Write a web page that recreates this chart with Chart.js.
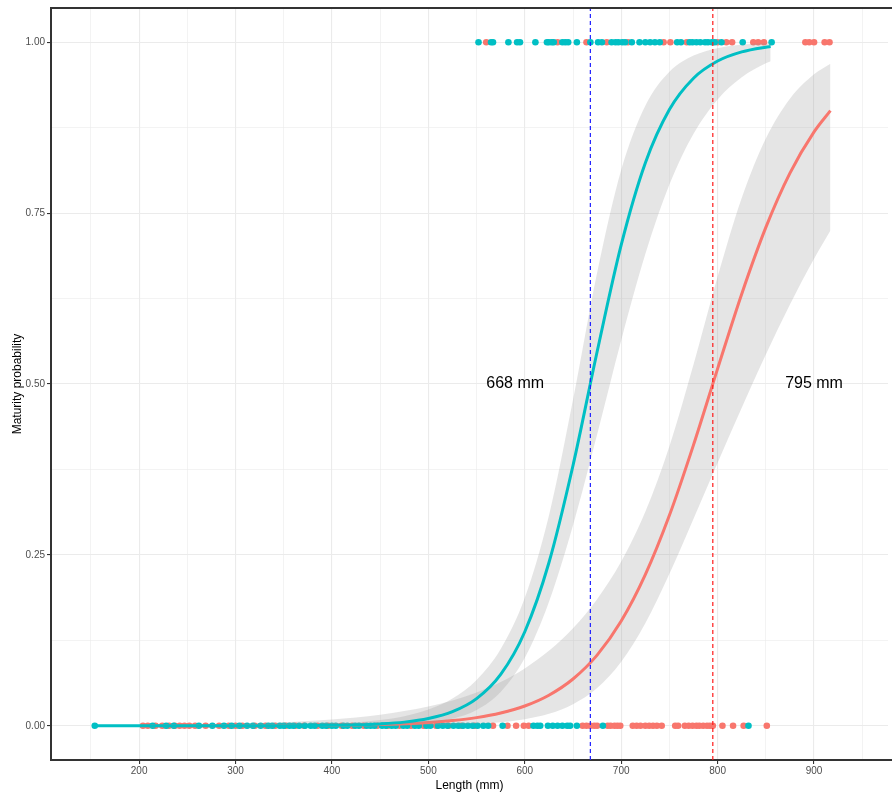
<!DOCTYPE html>
<html>
<head>
<meta charset="utf-8">
<script src="https://cdn.jsdelivr.net/npm/chart.js@4.4.1/dist/chart.umd.min.js"></script>
<style>
  body { margin: 0; background: #fff; overflow: hidden; }
  #wrap { width: 892px; height: 796px; }
</style>
</head>
<body>
<div id="wrap"><canvas id="myChart"></canvas></div>
<script>
// axis ticks
const lengthTicks = [150, 200, 250, 300, 350, 400, 450, 500, 550, 600, 650, 700, 750, 800, 850, 900, 950];
const probTicks = [0, 0.125, 0.25, 0.375, 0.5, 0.625, 0.75, 0.875, 1];

// fitted curve + confidence band, cyan group
const cyanL = [153, 175, 200, 225, 250, 275, 300, 325, 350, 375, 400, 425, 450, 475, 500, 525, 550, 575, 600, 625, 650, 675, 700, 725, 750, 775, 800, 825, 850, 855];
const cyanFit = [0, 0, 0, 0, 0, 0, 0, 0.0001, 0.0002, 0.0004, 0.0007, 0.0014, 0.0028, 0.0054, 0.0106, 0.0206, 0.0397, 0.0751, 0.1376, 0.2385, 0.3808, 0.5471, 0.7035, 0.8233, 0.9015, 0.9473, 0.9724, 0.9858, 0.9927, 0.9936];
const cyanLo = [0, 0, 0, 0, 0, 0, 0, 0, 0, 0.0001, 0.0002, 0.0004, 0.0009, 0.0021, 0.0047, 0.0105, 0.0232, 0.0495, 0.0994, 0.1811, 0.2933, 0.4260, 0.5641, 0.6900, 0.7917, 0.8660, 0.9163, 0.9488, 0.9690, 0.9721];
const cyanHi = [0, 0, 0, 0.0001, 0.0001, 0.0002, 0.0004, 0.0006, 0.0010, 0.0018, 0.0029, 0.0050, 0.0084, 0.0141, 0.0238, 0.0400, 0.0672, 0.1124, 0.1873, 0.3073, 0.4768, 0.6628, 0.8131, 0.9070, 0.9567, 0.9804, 0.9913, 0.9962, 0.9983, 0.9986];

// fitted curve + confidence band, red group
const redL = [205, 225, 250, 275, 300, 325, 350, 375, 400, 425, 450, 475, 500, 525, 550, 575, 600, 625, 650, 675, 700, 725, 750, 775, 800, 825, 850, 875, 900, 917];
const redFit = [0, 0, 0.0001, 0.0001, 0.0001, 0.0002, 0.0003, 0.0005, 0.0008, 0.0013, 0.0020, 0.0031, 0.0049, 0.0077, 0.0120, 0.0187, 0.0290, 0.0448, 0.0685, 0.1034, 0.1532, 0.2211, 0.3079, 0.4110, 0.5225, 0.6318, 0.7291, 0.8085, 0.8688, 0.8999];
const redLo = [0, 0, 0, 0, 0, 0, 0, 0.0001, 0.0001, 0.0001, 0.0002, 0.0005, 0.0008, 0.0016, 0.0029, 0.0053, 0.0097, 0.0175, 0.0315, 0.0552, 0.0937, 0.1500, 0.2224, 0.3028, 0.3849, 0.4653, 0.5431, 0.6163, 0.6833, 0.7245];
const redHi = [0.0011, 0.0013, 0.0018, 0.0023, 0.0031, 0.0040, 0.0053, 0.0071, 0.0093, 0.0123, 0.0163, 0.0215, 0.0283, 0.0372, 0.0489, 0.0642, 0.0840, 0.1097, 0.1427, 0.1853, 0.2403, 0.3130, 0.4090, 0.5285, 0.6568, 0.7719, 0.8590, 0.9173, 0.9531, 0.9685];

// observed fish (length mm), mature = 1 / immature = 0
const cyanMature = [552, 565, 567, 583, 592, 595, 611, 623, 625, 628, 630, 639, 642, 645, 654, 668, 676, 680, 690, 694, 697, 701, 704, 711, 719, 725, 730, 735, 740, 758, 762, 771, 774, 778, 782, 787, 790, 794, 797, 804, 826, 856];
const redMature = [560, 634, 664, 685, 707, 744, 751, 768, 800, 809, 815, 837, 842, 848, 891, 895, 900, 911, 916];
const cyanImmature = [154, 214, 228, 236, 262, 276, 288, 296, 304, 312, 318, 326, 334, 338, 346, 350, 356, 360, 366, 372, 378, 382, 390, 394, 400, 404, 412, 416, 424, 428, 436, 440, 444, 452, 456, 462, 466, 474, 478, 486, 490, 498, 502, 510, 515, 520, 526, 531, 536, 541, 546, 551, 557, 562, 577, 609, 613, 616, 624, 629, 634, 639, 644, 647, 654, 681, 832];
const redImmature = [204, 209, 217, 224, 231, 237, 242, 247, 252, 258, 269, 283, 293, 300, 307, 320, 331, 341, 352, 362, 371, 385, 396, 410, 421, 433, 447, 458, 470, 482, 495, 508, 521, 534, 548, 567, 582, 591, 599, 604, 660, 664, 668, 672, 675, 686, 689, 693, 696, 699, 712, 716, 720, 725, 729, 733, 737, 742, 756, 759, 766, 770, 774, 778, 781, 785, 789, 792, 795, 805, 816, 827, 851];

// L50 values and their labels
const l50 = [668, 795];
const l50Labels = ['668 mm', '795 mm'];
const l50LabelX = [590, 900];
const l50Colors = ['#1f1fff', '#ff1a1a'];

const RED = '#F8766D';
const CYAN = '#00BFC4';
const BAND = 'rgba(153, 153, 153, 0.25)';
const FONT = '"Liberation Sans", Arial, sans-serif';

const xy = (xs, ys) => xs.map((x, i) => ({ x: x, y: ys[i] }));
const row = (xs, y) => xs.map(x => ({ x: x, y: y }));
const vline = x => [{ x: x, y: -0.05 }, { x: x, y: 1.05 }];

const isMajorX = v => v % 100 === 0;
const isMajorY = v => Math.abs(v * 4 - Math.round(v * 4)) < 1e-9;

const framePlugin = {
    id: 'frame',
    afterDatasetsDraw(chart) {
        const ctx = chart.ctx;
        const area = chart.chartArea;
        const xs = chart.scales.x;
        const ys = chart.scales.y;
        ctx.save();
        ctx.fillStyle = '#000';
        ctx.font = '16px ' + FONT;
        ctx.textAlign = 'center';
        ctx.textBaseline = 'middle';
        l50Labels.forEach((t, i) => {
            ctx.fillText(t, xs.getPixelForValue(l50LabelX[i]), ys.getPixelForValue(0.5));
        });
        ctx.strokeStyle = '#333';
        ctx.lineWidth = 2;
        ctx.beginPath();
        ctx.moveTo(area.left, area.top);
        ctx.lineTo(chart.width, area.top);
        ctx.moveTo(area.right, area.bottom);
        ctx.lineTo(chart.width, area.bottom);
        ctx.stroke();
        ctx.restore();
    }
};

const ctx = document.getElementById('myChart').getContext('2d');

new Chart(ctx, {
    type: 'line',
    data: {
        datasets: [
            // 0,1 vertical L50 lines
            { data: vline(l50[0]), borderColor: l50Colors[0], borderWidth: 1.2, borderDash: [4, 3], pointRadius: 0, order: 0 },
            { data: vline(l50[1]), borderColor: l50Colors[1], borderWidth: 1.2, borderDash: [4, 3], pointRadius: 0, order: 0 },
            // 2 cyan fit line
            { data: xy(cyanL, cyanFit), borderColor: CYAN, borderWidth: 3, pointRadius: 0, cubicInterpolationMode: 'monotone', order: 1 },
            // 3,4 cyan band
            { data: xy(cyanL, cyanLo), borderWidth: 0, borderColor: 'rgba(0,0,0,0)', pointRadius: 0, cubicInterpolationMode: 'monotone', order: 2 },
            { data: xy(cyanL, cyanHi), borderWidth: 0, borderColor: 'rgba(0,0,0,0)', backgroundColor: BAND, fill: 3, pointRadius: 0, cubicInterpolationMode: 'monotone', order: 2 },
            // 5 red fit line
            { data: xy(redL, redFit), borderColor: RED, borderWidth: 3, pointRadius: 0, cubicInterpolationMode: 'monotone', order: 3 },
            // 6,7 red band
            { data: xy(redL, redLo), borderWidth: 0, borderColor: 'rgba(0,0,0,0)', pointRadius: 0, cubicInterpolationMode: 'monotone', order: 4 },
            { data: xy(redL, redHi), borderWidth: 0, borderColor: 'rgba(0,0,0,0)', backgroundColor: BAND, fill: 6, pointRadius: 0, cubicInterpolationMode: 'monotone', order: 4 },
            // 8-11 observations
            { data: row(cyanMature, 1), showLine: false, pointRadius: 3.3, pointBorderWidth: 0, pointBackgroundColor: CYAN, order: 5 },
            { data: row(cyanImmature, 0), showLine: false, pointRadius: 3.3, pointBorderWidth: 0, pointBackgroundColor: CYAN, order: 5 },
            { data: row(redMature, 1), showLine: false, pointRadius: 3.3, pointBorderWidth: 0, pointBackgroundColor: RED, order: 6 },
            { data: row(redImmature, 0), showLine: false, pointRadius: 3.3, pointBorderWidth: 0, pointBackgroundColor: RED, order: 6 }
        ]
    },
    options: {
        responsive: true,
        maintainAspectRatio: false,
        animation: false,
        layout: { padding: { top: 7, left: 6, right: 0, bottom: 0 } },
        plugins: {
            legend: { display: false },
            tooltip: { enabled: false },
            filler: { propagate: false }
        },
        scales: {
            x: {
                type: 'linear',
                min: 108.6,
                max: 976.7,
                afterBuildTicks: s => { s.ticks = lengthTicks.map(v => ({ value: v })); },
                afterFit: s => { s.height = 36; },
                border: { color: '#333', width: 2 },
                grid: {
                    color: '#ebebeb',
                    lineWidth: c => isMajorX(c.tick.value) ? 1.1 : 0.6,
                    tickLength: 4,
                    tickColor: c => isMajorX(c.tick.value) ? '#333' : 'rgba(0,0,0,0)'
                },
                ticks: {
                    color: '#4d4d4d',
                    font: { family: FONT, size: 10 },
                    padding: 1,
                    maxRotation: 0,
                    autoSkip: false,
                    callback: v => isMajorX(v) ? String(v) : ''
                },
                title: {
                    display: true,
                    text: 'Length (mm)',
                    color: '#000',
                    font: { family: FONT, size: 12 },
                    padding: { top: 2, bottom: 3 }
                }
            },
            y: {
                min: -0.05,
                max: 1.05,
                afterBuildTicks: s => { s.ticks = probTicks.map(v => ({ value: v })); },
                afterFit: s => { s.width = 45; },
                border: { color: '#333', width: 2 },
                grid: {
                    color: '#ebebeb',
                    lineWidth: c => isMajorY(c.tick.value) ? 1.1 : 0.6,
                    tickLength: 4,
                    tickColor: c => isMajorY(c.tick.value) ? '#333' : 'rgba(0,0,0,0)'
                },
                ticks: {
                    color: '#4d4d4d',
                    font: { family: FONT, size: 10 },
                    padding: 2,
                    autoSkip: false,
                    callback: v => isMajorY(v) ? v.toFixed(2) : ''
                },
                title: {
                    display: true,
                    text: 'Maturity probability',
                    color: '#000',
                    font: { family: FONT, size: 12 },
                    padding: { top: 4, bottom: 4 }
                }
            }
        }
    },
    plugins: [framePlugin]
});
</script>
</body>
</html>
